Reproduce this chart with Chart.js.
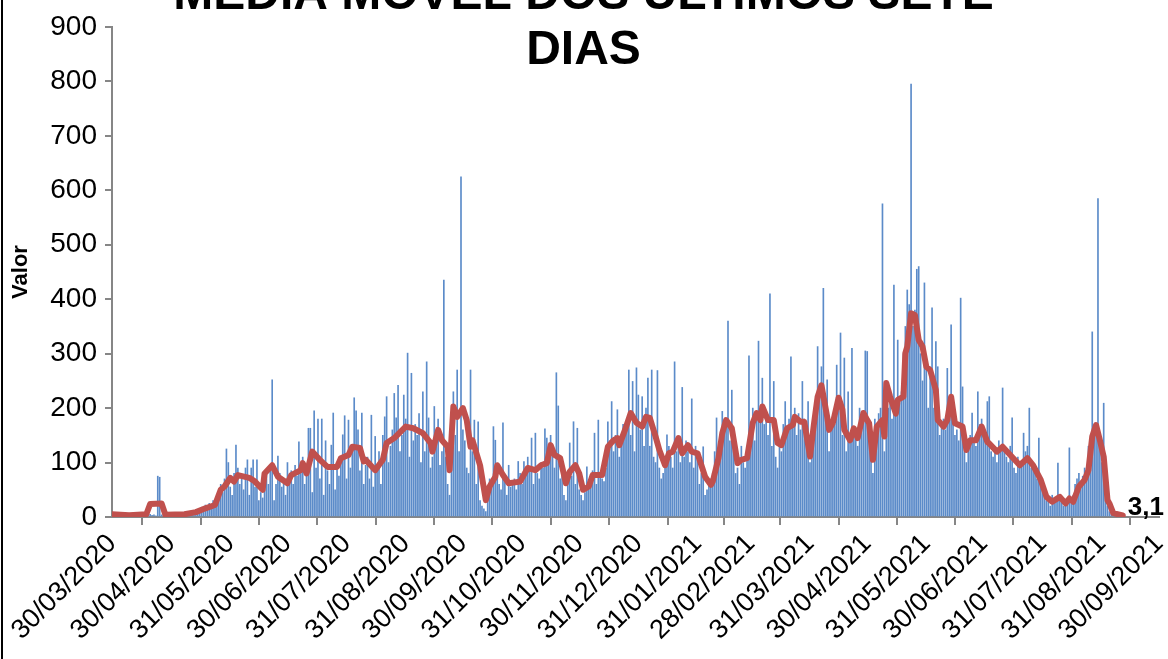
<!DOCTYPE html>
<html><head><meta charset="utf-8">
<script src="https://cdn.jsdelivr.net/npm/chart.js@4.4.1/dist/chart.umd.min.js"></script>
<style>html,body{margin:0;padding:0;background:#fff;overflow:hidden}canvas{display:block}</style>
</head><body>
<canvas id="c" width="1168" height="659"></canvas>
<script>
const titleLines = ['MÉDIA MÓVEL DOS ÚLTIMOS SETE', 'DIAS'];
const yAxisTitle = 'Valor';
const startDate = '30/03/2020';
const tickLabels = ['30/03/2020','30/04/2020','31/05/2020','30/06/2020','31/07/2020','31/08/2020','30/09/2020','31/10/2020','30/11/2020','31/12/2020','31/01/2021','28/02/2021','31/03/2021','30/04/2021','31/05/2021','30/06/2021','31/07/2021','31/08/2021','30/09/2021'];
const yTicks = [0,100,200,300,400,500,600,700,800,900];

// daily values (one per day from startDate)
const dailyValues = [
2,5,3,6,4,1,3,8,5,2,
4,6,2,3,7,5,1,4,6,3,
5,3,4,2,75,73,4,3,2,5,
3,4,2,6,5,1,3,4,7,2,
6,8,5,10,12,7,15,18,9,22,
14,25,20,30,18,40,35,60,45,70,
125,100,55,40,80,132,90,60,75,50,
90,105,40,90,105,55,105,30,45,35,
70,85,60,95,252,30,60,112,80,55,
65,40,100,70,85,60,95,75,138,80,
110,60,95,163,163,45,195,90,180,70,
180,40,140,85,60,132,191,50,95,75,
110,151,186,70,178,90,120,219,195,160,
85,191,60,95,110,70,187,55,148,90,
120,60,150,184,221,100,130,160,227,182,
242,120,150,224,180,301,110,264,140,170,
150,190,100,230,120,285,182,90,110,203,
150,180,95,120,435,110,60,40,178,230,
150,270,120,625,160,140,90,80,270,120,
178,60,175,30,20,15,10,40,70,60,
166,141,80,60,50,173,70,40,95,55,
60,70,50,102,80,60,102,85,110,90,
145,60,154,80,70,100,90,162,145,110,
150,120,90,265,204,70,100,40,30,60,
136,75,175,60,163,50,40,30,45,92,
60,70,85,154,60,178,80,70,65,90,
175,140,212,120,150,197,110,130,170,160,
180,270,150,249,120,274,224,160,221,130,
200,255,130,270,110,100,269,90,70,80,
100,151,130,110,90,285,120,140,100,238,
110,140,120,100,217,90,130,110,60,80,
129,40,50,60,70,80,120,182,100,130,
194,150,180,360,140,233,120,80,90,60,
130,100,90,120,296,150,200,140,190,323,
180,255,170,190,150,410,130,249,110,90,
140,120,170,212,160,180,294,170,200,150,
190,160,249,180,150,212,100,170,200,190,
313,230,276,420,200,252,120,160,190,170,
279,200,338,150,292,120,230,140,310,160,
150,130,200,170,190,305,304,150,110,80,
180,170,190,200,575,120,250,200,230,180,
426,200,325,210,230,300,350,417,390,795,
350,380,455,460,300,250,430,290,200,260,
384,200,322,276,150,170,180,160,273,200,
353,180,150,160,140,402,239,120,100,130,
150,191,140,130,230,170,180,150,140,212,
221,120,110,130,100,140,130,237,120,110,
100,130,182,90,80,110,90,100,154,120,
130,200,90,100,80,70,145,60,50,40,
30,35,20,40,25,30,99,40,30,20,
20,30,127,25,40,60,70,80,60,75,
90,70,130,100,340,150,160,585,130,100,
209,40,20,10,5,3,2,4,2,3,5
];

// seven-day moving average, read at day offsets from startDate
const maDays = [0,9,18,20,26,28,38,44,49,54,57,59,62,64,66,72,75,79,80,84,87,92,94,99,100,102,105,109,113,118,120,124,126,130,132,133,138,142,144,148,154,158,163,167,168,171,173,176,177,179,181,184,186,188,189,193,196,198,201,202,205,208,214,218,222,225,228,230,232,235,238,240,243,245,247,250,252,257,260,263,265,266,269,272,275,278,280,282,285,287,290,292,294,297,299,302,304,307,311,314,315,318,320,322,325,328,330,333,336,338,340,341,344,347,349,351,354,357,358,361,363,366,368,370,372,375,376,378,381,383,384,387,389,391,394,396,397,399,401,404,405,406,408,411,412,415,416,417,419,421,423,425,427,429,432,433,436,438,440,442,446,448,450,453,456,459,460,464,467,471,476,480,483,487,490,493,497,500,502,504,507,510,512,514,516,518,520,522,523,525,530];
const maValues = [5,3,5,24,25,4,5,9,16,22,50,56,72,65,77,72,65,50,80,95,74,62,77,86,99,80,120,105,92,92,108,114,129,127,102,105,86,105,136,145,166,163,154,136,120,160,141,129,86,203,184,200,178,129,141,95,31,56,74,95,77,62,65,90,86,95,99,132,114,108,62,83,95,80,50,56,77,77,129,141,145,132,160,191,173,166,184,182,148,123,95,117,120,145,117,132,120,117,74,59,65,108,154,178,163,99,105,108,173,191,178,203,178,178,136,132,163,169,184,175,175,111,169,221,242,184,160,173,219,197,160,141,163,145,191,178,172,105,166,178,148,246,221,190,215,221,301,313,374,371,325,313,276,270,233,178,166,178,221,172,166,123,141,141,166,138,135,120,129,114,95,108,95,68,37,28,37,25,34,28,56,68,86,148,169,141,111,31,25,7,3.1];

function dayOf(s){const [d,m,y]=s.split('/').map(Number);return Date.UTC(y,m-1,d)/864e5;}
const t0 = dayOf(startDate);
const tickDays = tickLabels.map(s => dayOf(s) - t0);
const barPoints = dailyValues.map((v,i)=>({x:i,y:v}));
const maPoints = maDays.map((d,i)=>({x:d,y:maValues[i]}));
const FONT = 'Arial, "Liberation Sans", sans-serif';
const GRAY = '#868686';

const extras = {
  id:'extras',
  beforeDraw(chart){
    const c = chart.ctx;
    c.save(); c.fillStyle='#fff'; c.fillRect(0,0,chart.width,chart.height);
    c.strokeStyle='#000'; c.lineWidth=2;
    c.beginPath(); c.moveTo(2,0); c.lineTo(2,chart.height); c.stroke();
    c.restore();
  },
  afterDatasetsDraw(chart){
    const meta = chart.getDatasetMeta(0);
    const pt = meta.data[meta.data.length-1];
    const v = maValues[maValues.length-1];
    const c = chart.ctx;
    c.save();
    c.font = 'bold 26px ' + FONT;
    c.fillStyle = '#000';
    c.textAlign = 'left'; c.textBaseline = 'middle';
    c.fillText(String(v).replace('.', ','), pt.x + 5, pt.y - 7);
    c.restore();
  }
};

new Chart(document.getElementById('c'), {
  data: {
    datasets: [
      {type:'line', data: maPoints, borderColor:'#C0504D', borderWidth:6, pointRadius:0, tension:0, order:0, borderJoinStyle:'round', borderCapStyle:'round'},
      {type:'bar', data: barPoints, backgroundColor:'#5B8BC9', barThickness:1, order:1}
    ]
  },
  options: {
    responsive:false, animation:false, devicePixelRatio:1,
    layout:{padding:{left:8,right:9,top:0,bottom:0}},
    plugins:{
      legend:{display:false}, tooltip:{enabled:false},
      title:{display:true, text:titleLines, color:'#000', font:{family:FONT, size:48, weight:'bold', lineHeight:1.15}, padding:{top:-32,bottom:-51.4}}
    },
    scales:{
      x:{type:'linear', min:0, max:tickDays[tickDays.length-1], offset:false,
        afterBuildTicks(s){ s.ticks = tickDays.map(v=>({value:v})); },
        afterFit(s){ s.height = 142; s.paddingLeft = 0; s.paddingRight = 0; },
        ticks:{autoSkip:false, minRotation:45, maxRotation:45, color:'#000', font:{family:FONT,size:27}, padding:3,
          callback(v){ const i = tickDays.indexOf(v); return i>=0 ? tickLabels[i] : ''; }},
        grid:{drawOnChartArea:false, drawTicks:true, tickLength:8, color:GRAY, lineWidth:2},
        border:{display:true, color:GRAY, width:2}
      },
      y:{min:0, max:900,
        afterBuildTicks(s){ s.ticks = yTicks.map(v=>({value:v})); },
        afterFit(s){ s.width = 104; s.paddingTop = 0; s.paddingBottom = 0; },
        ticks:{color:'#000', font:{family:FONT,size:28}, padding:8},
        grid:{drawOnChartArea:false, drawTicks:true, tickLength:7, color:GRAY, lineWidth:2},
        border:{display:true, color:GRAY, width:2},
        title:{display:true, text:yAxisTitle, color:'#000', font:{family:FONT,size:22,weight:'bold'}, padding:{top:0,bottom:0}}
      }
    }
  },
  plugins:[extras]
});
</script>
</body></html>
